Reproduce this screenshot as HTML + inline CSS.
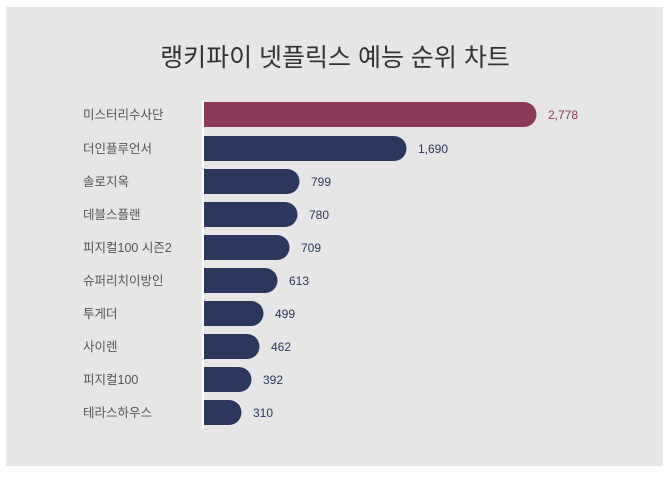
<!DOCTYPE html>
<html><head><meta charset="utf-8"><style>
body{margin:0;background:#fff;width:670px;height:473px;overflow:hidden;font-family:"Liberation Sans","Noto Sans CJK KR",sans-serif}
</style></head><body>
<svg width="670" height="473" xmlns="http://www.w3.org/2000/svg" font-family="Liberation Sans, Noto Sans CJK KR, sans-serif">
<rect x="6" y="7" width="657" height="459" fill="#e6e6e6"/>
<text x="335" y="66" text-anchor="middle" font-size="25" fill="#333">랭키파이 넷플릭스 예능 순위 차트</text>
<g font-size="12.5" fill="#555">
<text x="83" y="119">미스터리수사단</text>
<text x="83" y="153">더인플루언서</text>
<text x="83" y="186">솔로지옥</text>
<text x="83" y="219">데블스플랜</text>
<text x="83" y="252">피지컬100 시즌2</text>
<text x="83" y="285">슈퍼리치이방인</text>
<text x="83" y="318">투게더</text>
<text x="83" y="351">사이렌</text>
<text x="83" y="384">피지컬100</text>
<text x="83" y="417">테라스하우스</text>
</g>
<g fill="#2b375c">
<path d="M204 102H524a12.5 12.5 0 0 1 0 25H204Z" fill="#8a3a58"/>
<path d="M204 136H394a12.5 12.5 0 0 1 0 25H204Z"/>
<path d="M204 169H287a12.5 12.5 0 0 1 0 25H204Z"/>
<path d="M204 202H285a12.5 12.5 0 0 1 0 25H204Z"/>
<path d="M204 235H277a12.5 12.5 0 0 1 0 25H204Z"/>
<path d="M204 268H265a12.5 12.5 0 0 1 0 25H204Z"/>
<path d="M204 301H251a12.5 12.5 0 0 1 0 25H204Z"/>
<path d="M204 334H247a12.5 12.5 0 0 1 0 25H204Z"/>
<path d="M204 367H239a12.5 12.5 0 0 1 0 25H204Z"/>
<path d="M204 400H229a12.5 12.5 0 0 1 0 25H204Z"/>
</g>
<rect x="202" y="100" width="2" height="328" fill="#fff"/>
<g font-size="12" fill="#2b375c">
<text x="548" y="119" fill="#8a3a58">2,778</text>
<text x="418" y="153">1,690</text>
<text x="311" y="186">799</text>
<text x="309" y="219">780</text>
<text x="301" y="252">709</text>
<text x="289" y="285">613</text>
<text x="275" y="318">499</text>
<text x="271" y="351">462</text>
<text x="263" y="384">392</text>
<text x="253" y="417">310</text>
</g>
</svg>
</body></html>
